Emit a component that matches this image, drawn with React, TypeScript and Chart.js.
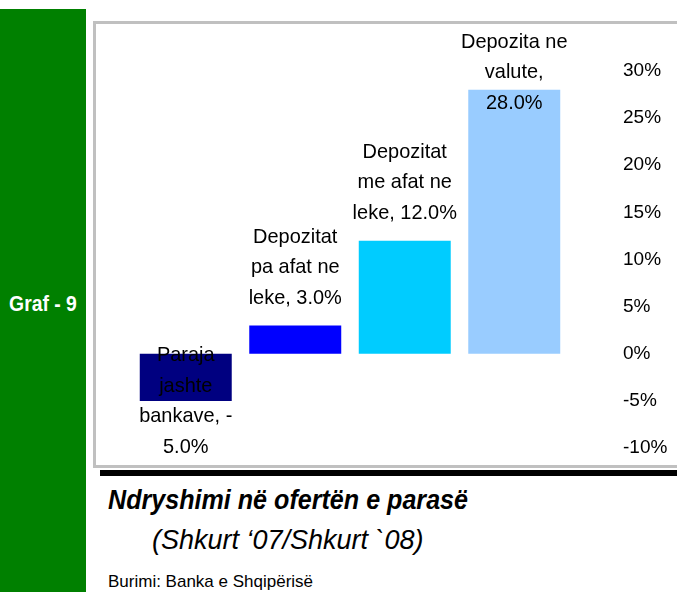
import React, { useEffect, useRef } from "react";
import { Chart, registerables } from "chart.js";

Chart.register(...registerables);

const categories = [
  "Paraja jashte bankave",
  "Depozitat pa afat ne leke",
  "Depozitat me afat ne leke",
  "Depozita ne valute",
];
const values = [-5.0, 3.0, 12.0, 28.0];
const barColors = ["#000080", "#0000FF", "#00CCFF", "#99CCFF"];
const labelLines = [
  ["Paraja", "jashte", "bankave, -", "5.0%"],
  ["Depozitat", "pa afat ne", "leke, 3.0%"],
  ["Depozitat", "me afat ne", "leke, 12.0%"],
  ["Depozita ne", "valute,", "28.0%"],
];
const yTicks = [-10, -5, 0, 5, 10, 15, 20, 25, 30];

const FONT = '"Liberation Sans", Arial, sans-serif';

const labelPlugin = {
  id: "barLabels",
  afterDatasetsDraw(chart: any) {
    const ctx = chart.ctx;
    const meta = chart.getDatasetMeta(0);
    const lh = 30.5;
    const gap = 27.5;
    const minTop = 18;
    const maxBottom = chart.height - 18;
    ctx.save();
    ctx.fillStyle = "#000";
    ctx.textAlign = "center";
    ctx.textBaseline = "middle";
    ctx.font = `21px ${FONT}`;
    meta.data.forEach((bar: any, i: number) => {
      const lines = labelLines[i];
      const n = lines.length;
      let first: number;
      if (values[i] >= 0) {
        first = bar.y - gap - (n - 1) * lh;
        if (first < minTop) first = minTop;
      } else {
        first = bar.y + gap;
        if (first + (n - 1) * lh > maxBottom) first = maxBottom - (n - 1) * lh;
      }
      lines.forEach((t, k) => {
        ctx.save();
        ctx.translate(bar.x, first + k * lh);
        ctx.scale(0.95, 1);
        ctx.fillText(t, 0, 0);
        ctx.restore();
      });
    });
    ctx.restore();
  },
};

function BarChart() {
  const ref = useRef<HTMLCanvasElement>(null);
  useEffect(() => {
    if (!ref.current) return;
    const chart = new Chart(ref.current, {
      type: "bar",
      data: {
        labels: categories,
        datasets: [
          {
            data: values,
            backgroundColor: barColors,
            borderWidth: 0,
            barPercentage: 0.84,
            categoryPercentage: 1,
          },
        ],
      },
      options: {
        animation: false,
        responsive: false,
        maintainAspectRatio: false,
        layout: { padding: { left: 35, right: 8, top: 47, bottom: 17 } },
        plugins: { legend: { display: false }, tooltip: { enabled: false } },
        scales: {
          x: { display: false },
          y: {
            position: "right",
            min: -10,
            max: 30,
            afterFit: (s: any) => {
              s.width = 100;
            },
            afterBuildTicks: (s: any) => {
              s.ticks = yTicks.map((v) => ({ value: v }));
            },
            grid: { display: false, drawTicks: true, tickLength: 54 },
            border: { display: false },
            ticks: {
              padding: 0,
              color: "#000",
              font: { family: FONT, size: 19 },
              callback: (v: any) => `${v}%`,
            },
          },
        },
      },
      plugins: [labelPlugin],
    } as any);
    return () => chart.destroy();
  }, []);
  return (
    <canvas
      ref={ref}
      width={581}
      height={441}
      style={{ position: "absolute", left: 96, top: 24, width: 581, height: 441 }}
    />
  );
}

export default function App() {
  return (
    <div
      style={{
        position: "fixed",
        left: 0,
        top: 0,
        width: 677,
        height: 592,
        background: "#fff",
        overflow: "hidden",
        fontFamily: FONT,
      }}
    >
      <div style={{ position: "absolute", left: 0, top: 9, width: 86, height: 583, background: "#008000" }} />
      <div
        style={{
          position: "absolute",
          left: 0,
          width: 86,
          top: 289,
          lineHeight: "30px",
          textAlign: "center",
          color: "#fff",
          fontWeight: "bold",
          fontSize: 22,
          transform: "scaleX(0.88)",
          whiteSpace: "nowrap",
        }}
      >
        Graf - 9
      </div>
      <div
        style={{
          position: "absolute",
          left: 93,
          top: 21,
          width: 620,
          height: 447,
          boxSizing: "border-box",
          border: "3px solid #c0c0c0",
        }}
      />
      <div style={{ position: "absolute", left: 100, top: 470, width: 600, height: 6, background: "#000" }} />
      <BarChart />
      <div
        style={{
          position: "absolute",
          left: 108,
          top: 485,
          lineHeight: "30px",
          fontSize: 27,
          fontWeight: "bold",
          fontStyle: "italic",
          whiteSpace: "nowrap",
          transform: "scaleX(0.93)",
          transformOrigin: "left center",
        }}
      >
        Ndryshimi në ofertën e parasë
      </div>
      <div
        style={{
          position: "absolute",
          left: 152,
          top: 525,
          lineHeight: "30px",
          fontSize: 27,
          fontStyle: "italic",
          whiteSpace: "nowrap",
        }}
      >
        (Shkurt ‘07/Shkurt `08)
      </div>
      <div
        style={{
          position: "absolute",
          left: 108,
          top: 572,
          lineHeight: "20px",
          fontSize: 17,
          whiteSpace: "nowrap",
        }}
      >
        Burimi: Banka e Shqipërisë
      </div>
    </div>
  );
}
